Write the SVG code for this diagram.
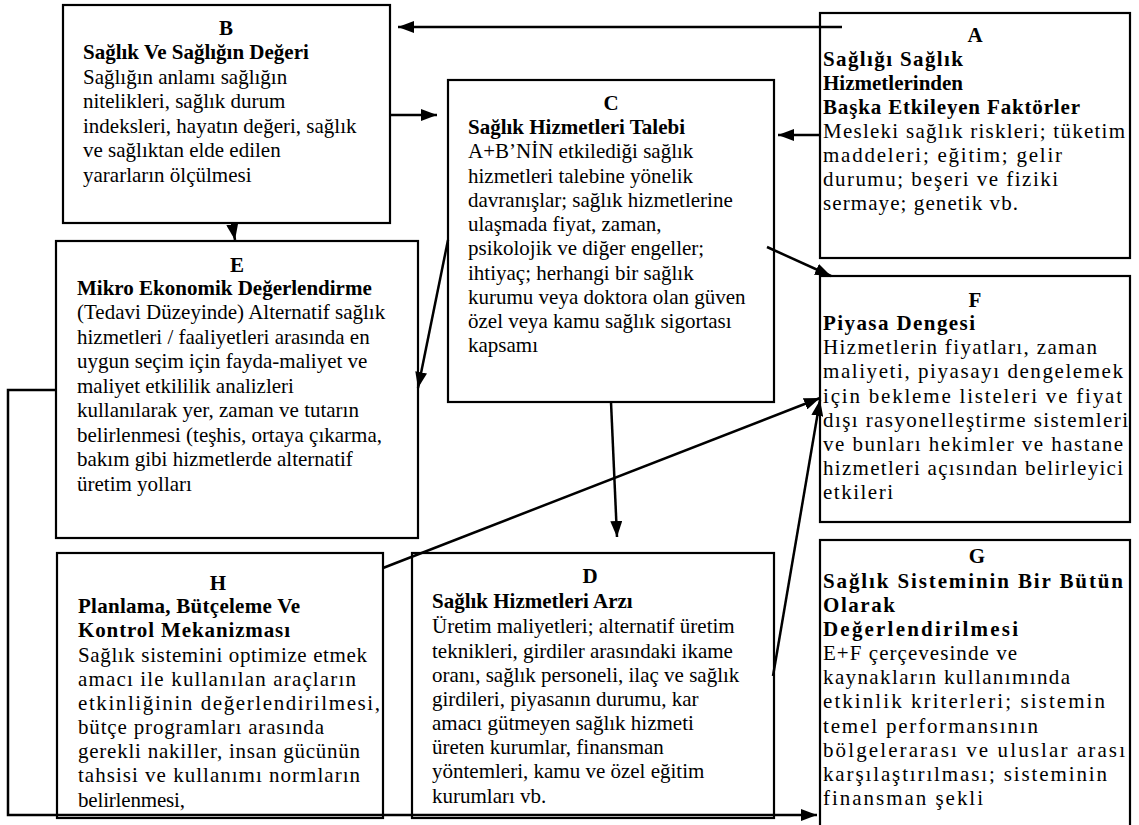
<svg xmlns="http://www.w3.org/2000/svg" width="1139" height="825" viewBox="0 0 1139 825">
<defs>
<marker id="ah" markerUnits="userSpaceOnUse" markerWidth="16" markerHeight="12" refX="16" refY="6" orient="auto">
<path d="M0,0 L16,6 L0,12 z" fill="#000"/>
</marker>
<style>
.box{fill:#fff;stroke:#000;stroke-width:2.2}
.t{font-family:'Liberation Serif','Times New Roman',serif;font-size:21px;fill:#000}
.b{font-weight:bold}
.c{text-anchor:middle;font-weight:bold}
.con{fill:none;stroke:#000;stroke-width:2.5}
.arr{marker-end:url(#ah)}
</style>
</defs>
<rect width="1139" height="825" fill="#fff"/>

<g id="nodeA">
<rect class="box" x="820" y="13" width="310" height="245"/>
<text class="t c" x="975" y="42">A</text>
<text class="t b" x="823" y="66" textLength="140">Sağlığı Sağlık</text>
<text class="t b" x="823" y="90" textLength="140">Hizmetlerinden</text>
<text class="t b" x="823" y="114" textLength="257">Başka Etkileyen Faktörler</text>
<text class="t" x="823" y="138" textLength="302">Mesleki sağlık riskleri; tüketim</text>
<text class="t" x="823" y="162" textLength="239">maddeleri; eğitim; gelir</text>
<text class="t" x="823" y="186" textLength="235">durumu; beşeri ve fiziki</text>
<text class="t" x="823" y="210" textLength="195">sermaye; genetik vb.</text>
</g>

<g id="nodeB">
<rect class="box" x="63" y="5" width="327" height="218"/>
<text class="t c" x="226" y="35">B</text>
<text class="t b" x="83" y="59">Sağlık Ve Sağlığın Değeri</text>
<text class="t"><tspan x="83" y="84">Sağlığın anlamı sağlığın</tspan><tspan x="83" y="108">nitelikleri, sağlık durum</tspan><tspan x="83" y="133">indeksleri, hayatın değeri, sağlık</tspan><tspan x="83" y="157">ve sağlıktan elde edilen</tspan><tspan x="83" y="182">yararların ölçülmesi</tspan></text>
</g>

<g id="nodeC">
<rect class="box" x="448" y="80" width="326" height="322"/>
<text class="t c" x="611" y="110">C</text>
<text class="t b" x="468" y="134">Sağlık Hizmetleri Talebi</text>
<text class="t"><tspan x="468" y="158">A+B’NİN etkilediği sağlık</tspan><tspan x="468" y="183">hizmetleri talebine yönelik</tspan><tspan x="468" y="207">davranışlar; sağlık hizmetlerine</tspan><tspan x="468" y="231">ulaşmada fiyat, zaman,</tspan><tspan x="468" y="255">psikolojik ve diğer engeller;</tspan><tspan x="468" y="280">ihtiyaç; herhangi bir sağlık</tspan><tspan x="468" y="304">kurumu veya doktora olan güven</tspan><tspan x="468" y="328">özel veya kamu sağlık sigortası</tspan><tspan x="468" y="352">kapsamı</tspan></text>
</g>

<g id="nodeD">
<rect class="box" x="412" y="553" width="362" height="265"/>
<text class="t c" x="590" y="583">D</text>
<text class="t b" x="432" y="608">Sağlık Hizmetleri Arzı</text>
<text class="t"><tspan x="432" y="633">Üretim maliyetleri; alternatif üretim</tspan><tspan x="432" y="658">teknikleri, girdiler arasındaki ikame</tspan><tspan x="432" y="682">oranı, sağlık personeli, ilaç ve sağlık</tspan><tspan x="432" y="706">girdileri, piyasanın durumu, kar</tspan><tspan x="432" y="730">amacı gütmeyen sağlık hizmeti</tspan><tspan x="432" y="754">üreten kurumlar, finansman</tspan><tspan x="432" y="778">yöntemleri, kamu ve özel eğitim</tspan><tspan x="432" y="803">kurumları vb.</tspan></text>
</g>

<g id="nodeE">
<rect class="box" x="56" y="241" width="362" height="297"/>
<text class="t c" x="237" y="272">E</text>
<text class="t b" x="77" y="295">Mikro Ekonomik Değerlendirme</text>
<text class="t"><tspan x="77" y="319">(Tedavi Düzeyinde) Alternatif sağlık</tspan><tspan x="77" y="344">hizmetleri / faaliyetleri arasında en</tspan><tspan x="77" y="368">uygun seçim için fayda-maliyet ve</tspan><tspan x="77" y="393">maliyet etkililik analizleri</tspan><tspan x="77" y="417">kullanılarak yer, zaman ve tutarın</tspan><tspan x="77" y="442">belirlenmesi (teşhis, ortaya çıkarma,</tspan><tspan x="77" y="466">bakım gibi hizmetlerde alternatif</tspan><tspan x="77" y="491">üretim yolları</tspan></text>
</g>

<g id="nodeF">
<rect class="box" x="820" y="276" width="310" height="246"/>
<text class="t c" x="975" y="307">F</text>
<text class="t b" x="823" y="330" textLength="152">Piyasa Dengesi</text>
<text class="t" x="823" y="354" textLength="274">Hizmetlerin fiyatları, zaman</text>
<text class="t" x="823" y="378" textLength="300">maliyeti, piyasayı dengelemek</text>
<text class="t" x="823" y="403" textLength="299">için bekleme listeleri ve fiyat</text>
<text class="t" x="823" y="427" textLength="305">dışı rasyonelleştirme sistemleri</text>
<text class="t" x="823" y="451" textLength="300">ve bunları hekimler ve hastane</text>
<text class="t" x="823" y="475" textLength="300">hizmetleri açısından belirleyici</text>
<text class="t" x="823" y="499" textLength="70">etkileri</text>
</g>

<g id="nodeG">
<rect class="box" x="820" y="540" width="310" height="300"/>
<text class="t c" x="977" y="563">G</text>
<text class="t b" x="823" y="588" textLength="300">Sağlık Sisteminin Bir Bütün</text>
<text class="t b" x="823" y="612" textLength="72">Olarak</text>
<text class="t b" x="823" y="636" textLength="195">Değerlendirilmesi</text>
<text class="t" x="823" y="660" textLength="194">E+F çerçevesinde ve</text>
<text class="t" x="823" y="684" textLength="247">kaynakların kullanımında</text>
<text class="t" x="823" y="708" textLength="282">etkinlik kriterleri; sistemin</text>
<text class="t" x="823" y="733" textLength="215">temel performansının</text>
<text class="t" x="823" y="757" textLength="302">bölgelerarası ve uluslar arası</text>
<text class="t" x="823" y="781" textLength="284">karşılaştırılması; sisteminin</text>
<text class="t" x="823" y="805" textLength="160">finansman şekli</text>
</g>

<g id="nodeH">
<rect class="box" x="57" y="553" width="326" height="265"/>
<text class="t c" x="218" y="590">H</text>
<text class="t b" x="78" y="613" textLength="222">Planlama, Bütçeleme Ve</text>
<text class="t b" x="78" y="637" textLength="212">Kontrol Mekanizması</text>
<text class="t" x="78" y="662" textLength="289">Sağlık sistemini optimize etmek</text>
<text class="t" x="78" y="686" textLength="278">amacı ile kullanılan araçların</text>
<text class="t" x="78" y="710" textLength="302">etkinliğinin değerlendirilmesi,</text>
<text class="t" x="78" y="734" textLength="246">bütçe programları arasında</text>
<text class="t" x="78" y="758" textLength="282">gerekli nakiller, insan gücünün</text>
<text class="t" x="78" y="782" textLength="282">tahsisi ve kullanımı normların</text>
<text class="t" x="78" y="807" textLength="107">belirlenmesi,</text>
</g>

<g id="connectors">
<path class="con arr" d="M842,27 L398,27"/>
<path class="con arr" d="M390,115 L437,115"/>
<path class="con arr" d="M820,135 L778,135"/>
<path class="con arr" d="M232,223 L235,240"/>
<path class="con arr" d="M448,240 L418,388"/>
<path class="con arr" d="M767,247 L831,276"/>
<path class="con arr" d="M611,402 L617,537"/>
<path class="con arr" d="M383,568 L820,398"/>
<path class="con arr" d="M773,676 L820,400"/>
<path class="con arr" d="M56,390 L8,390 L8,815 L817,815"/>
</g>
</svg>
